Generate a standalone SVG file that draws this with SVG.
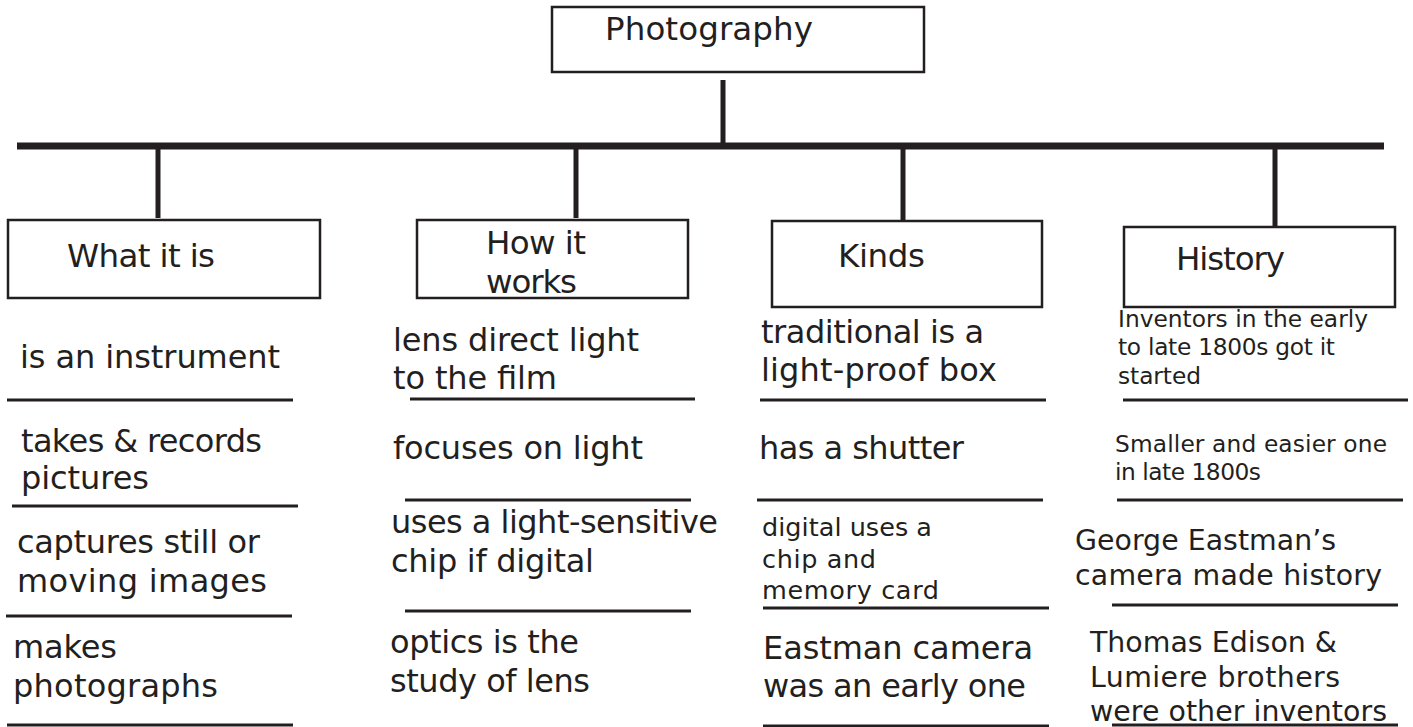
<svg xmlns="http://www.w3.org/2000/svg" width="1413" height="727" viewBox="0 0 1413 727">
<style>
  text { font-family: "DejaVu Sans", "Liberation Sans", sans-serif; fill: #231f20; }
  .box { fill: #ffffff; stroke: #231f20; stroke-width: 2.5; }
  .hd { font-size: 32.5px; }
  .big { font-size: 32px; }
  .mid { font-size: 28.4px; }
  .sm { font-size: 25.5px; }
  .xs { font-size: 23.3px; }
  .rule { stroke: #231f20; stroke-width: 3; }
  .conn { stroke: #231f20; stroke-width: 5; fill: none; }
  .bar { stroke: #231f20; stroke-width: 7; fill: none; }
</style>
<rect width="1413" height="727" fill="#ffffff"/>

<g id="connectors">
  <line class="bar" x1="17" y1="146" x2="1384" y2="146"/>
  <line class="conn" x1="723" y1="80" x2="723" y2="143"/>
  <line class="conn" x1="158" y1="143" x2="158" y2="218"/>
  <line class="conn" x1="576" y1="143" x2="576" y2="218"/>
  <line class="conn" x1="903" y1="143" x2="903" y2="220"/>
  <line class="conn" x1="1275" y1="149" x2="1275" y2="226"/>
</g>

<g id="node-photography">
  <rect class="box" x="552" y="7" width="372" height="65"/>
  <text class="hd" x="605" y="40" textLength="208">Photography</text>
</g>

<g id="node-what-it-is">
  <rect class="box" x="8" y="220" width="312" height="78"/>
  <text class="hd" x="67" y="267" textLength="148">What it is</text>
</g>

<g id="node-how-it-works">
  <rect class="box" x="417" y="220" width="271" height="78"/>
  <text class="hd" x="486" y="254" textLength="100">How it</text>
  <text class="hd" x="486" y="293" textLength="91">works</text>
</g>

<g id="node-kinds">
  <rect class="box" x="772" y="221" width="270" height="86"/>
  <text class="hd" x="838" y="267" textLength="87">Kinds</text>
</g>

<g id="node-history">
  <rect class="box" x="1124" y="227" width="271" height="80"/>
  <text class="hd" x="1176" y="270" textLength="109">History</text>
</g>

<!-- Column 1 -->
<g id="what-1">
  <text class="big" x="20" y="368" textLength="260">is an instrument</text>
  <line class="rule" x1="7" y1="400" x2="293" y2="400"/>
</g>
<g id="what-2">
  <text class="big" x="21" y="452" textLength="241">takes &amp; records</text>
  <text class="big" x="21" y="489" textLength="128">pictures</text>
  <line class="rule" x1="12" y1="506" x2="298" y2="506"/>
</g>
<g id="what-3">
  <text class="big" x="17" y="553" textLength="243">captures still or</text>
  <text class="big" x="17" y="592" textLength="250">moving images</text>
  <line class="rule" x1="6" y1="616" x2="292" y2="616"/>
</g>
<g id="what-4">
  <text class="big" x="13" y="658" textLength="104">makes</text>
  <text class="big" x="13" y="697" textLength="205">photographs</text>
  <line class="rule" x1="7" y1="725" x2="293" y2="725"/>
</g>

<!-- Column 2 -->
<g id="how-1">
  <text class="big" x="393" y="351" textLength="246">lens direct light</text>
  <text class="big" x="393" y="389" textLength="164">to the film</text>
  <line class="rule" x1="410" y1="399" x2="695" y2="399"/>
</g>
<g id="how-2">
  <text class="big" x="393" y="459" textLength="250">focuses on light</text>
  <line class="rule" x1="405" y1="500" x2="691" y2="500"/>
</g>
<g id="how-3">
  <text class="big" x="391" y="533" textLength="327">uses a light-sensitive</text>
  <text class="big" x="391" y="572" textLength="203">chip if digital</text>
  <line class="rule" x1="405" y1="611" x2="691" y2="611"/>
</g>
<g id="how-4">
  <text class="big" x="390" y="653" textLength="189">optics is the</text>
  <text class="big" x="390" y="692" textLength="200">study of lens</text>
</g>

<!-- Column 3 -->
<g id="kinds-1">
  <text class="big" x="761" y="343" textLength="223">traditional is a</text>
  <text class="big" x="761" y="381" textLength="236">light-proof box</text>
  <line class="rule" x1="760" y1="400" x2="1046" y2="400"/>
</g>
<g id="kinds-2">
  <text class="big" x="759" y="459" textLength="205">has a shutter</text>
  <line class="rule" x1="757" y1="500" x2="1043" y2="500"/>
</g>
<g id="kinds-3">
  <text class="sm" x="762" y="536" textLength="170">digital uses a</text>
  <text class="sm" x="762" y="568" textLength="114">chip and</text>
  <text class="sm" x="762" y="599" textLength="177">memory card</text>
  <line class="rule" x1="763" y1="608" x2="1049" y2="608"/>
</g>
<g id="kinds-4">
  <text class="big" x="763" y="659" textLength="270">Eastman camera</text>
  <text class="big" x="763" y="697" textLength="263">was an early one</text>
  <line class="rule" x1="763" y1="726" x2="1049" y2="726"/>
</g>

<!-- Column 4 -->
<g id="history-1">
  <text class="xs" x="1118" y="327" textLength="250">Inventors in the early</text>
  <text class="xs" x="1118" y="355" textLength="217">to late 1800s got it</text>
  <text class="xs" x="1118" y="384" textLength="83">started</text>
  <line class="rule" x1="1123" y1="400" x2="1408" y2="400"/>
</g>
<g id="history-2">
  <text class="xs" x="1115" y="452" textLength="272">Smaller and easier one</text>
  <text class="xs" x="1115" y="480" textLength="146">in late 1800s</text>
  <line class="rule" x1="1117" y1="500" x2="1403" y2="500"/>
</g>
<g id="history-3">
  <text class="mid" x="1075" y="550" textLength="261">George Eastman’s</text>
  <text class="mid" x="1075" y="585" textLength="307">camera made history</text>
  <line class="rule" x1="1112" y1="605" x2="1398" y2="605"/>
</g>
<g id="history-4">
  <text class="mid" x="1090" y="652" textLength="247">Thomas Edison &amp;</text>
  <text class="mid" x="1090" y="687" textLength="250">Lumiere brothers</text>
  <text class="mid" x="1090" y="721" textLength="297">were other inventors</text>
  <line class="rule" x1="1112" y1="725" x2="1398" y2="725"/>
</g>
</svg>
